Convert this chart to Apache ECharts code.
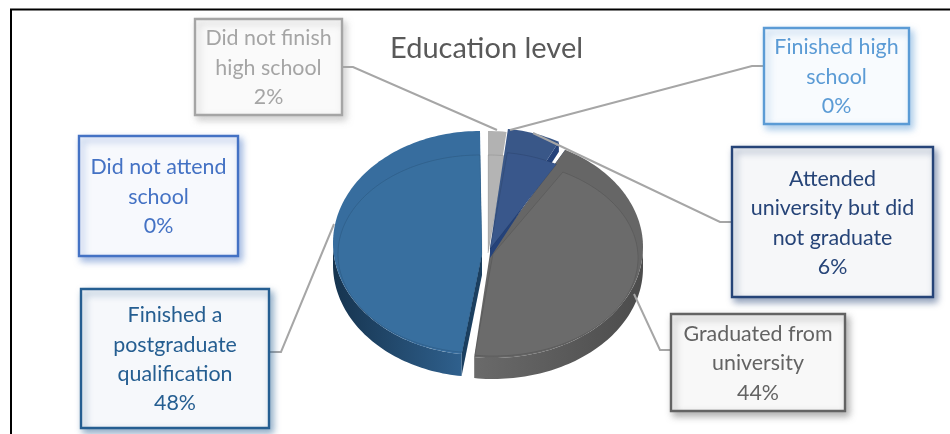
<!DOCTYPE html>
<html>
<head>
<meta charset="utf-8">
<style>html,body{margin:0;padding:0;background:#fff}#chart{width:950px;height:434px}</style>
<script src="https://cdn.jsdelivr.net/npm/echarts@6/dist/echarts.min.js"></script>
</head>
<body>
<div id="chart"></div>
<script>
// Survey answers, in pie order (clockwise from twelve o'clock)
const categories = [
  'Did not attend\nschool',
  'Did not finish\nhigh school',
  'Finished high\nschool',
  'Attended\nuniversity but did\nnot graduate',
  'Graduated from\nuniversity',
  'Finished a\npostgraduate\nqualification'
];
const values = [0, 2, 0, 6, 44, 48];
const chartTitle = 'Education level';

// Per-slice look: colours for the face, bevel, side wall and callout
const faceColors  = [null, '#b2b2b2', null, '#395788', '#666666', '#376d9e'];
const innerColors = [null, '#b4b4b4', null, '#39578b', '#6b6b6b', '#386f9f'];
const wallColors  = [
  null, ['#8a8a8a', '#8a8a8a'], null, ['#27457c', '#1f3a6b'],
  ['#6a6a6a', '#4c4c4c'], ['#16344f', '#2f608d']
];
const labelColors = ['#4472c4', '#a5a5a5', '#5b9bd5', '#264478', '#636363', '#255e91'];
const boxFills    = ['#f7f9fd', '#fafafa', '#f8fbfe', '#f6f7f9', '#f8f8f8', '#f6f8fb'];

// Ellipse centre, wedge tip and extrusion of each exploded slice
const sliceLayout = [
  null,
  { cx: 488, cy: 243, tipX: 488, tipY: 252, rx: 148, ry: 112, depth: 0, z: 1 },
  null,
  { cx: 490, cy: 240, tipX: 490, tipY: 248, rx: 143, ry: 112, depth: 10, z: 4 },
  { cx: 493, cy: 247, tipX: 490, tipY: 253, rx: 150, ry: 111, depth: 21, z: 2 },
  { cx: 480, cy: 243, tipX: 482, tipY: 253, rx: 147, ry: 112, depth: 22, z: 3 }
];
// Callout boxes [left, top, right, bottom] and their leader lines
const boxes = [
  [79, 136, 238, 256],
  [195, 19, 342, 115],
  [764, 28, 909, 124],
  [732, 147, 933, 297],
  [671, 314, 845, 411],
  [81, 289, 269, 428]
];
const leaders = [
  null,
  [[342, 67], [353, 67], [497, 130]],
  [[764, 66], [752, 66], [510, 130]],
  [[732, 222], [720, 222], [533, 133]],
  [[671, 350], [660, 350], [634, 294]],
  [[269, 352], [281, 352], [334, 224]]
];

const total = values.reduce((a, b) => a + b, 0);
const startAngles = [];
values.reduce((sum, v, i) => { startAngles[i] = sum / total * 360; return sum + v; }, 0);

// Point on an ellipse, angle in degrees clockwise from twelve o'clock
function rim(cx, cy, rx, ry, deg) {
  const a = deg * Math.PI / 180;
  return [cx + rx * Math.sin(a), cy - ry * Math.cos(a)];
}
function arc(cx, cy, rx, ry, from, to) {
  const pts = [];
  const n = Math.max(2, Math.ceil((to - from) / 1.5));
  for (let i = 0; i <= n; i++) pts.push(rim(cx, cy, rx, ry, from + (to - from) * i / n));
  return pts;
}

function renderSlice(params) {
  const i = params.dataIndex;
  const children = [];
  const from = startAngles[i];
  const to = from + values[i] / total * 360;
  const g = sliceLayout[i];

  if (values[i] > 0 && g) {
    const outer = arc(g.cx, g.cy, g.rx, g.ry, from, to);
    const tip = [g.tipX, g.tipY];
    const wallGrad = {
      type: 'linear', x: 0, y: 0, x2: 1, y2: 0,
      colorStops: [
        { offset: 0, color: wallColors[i][0] },
        { offset: 1, color: wallColors[i][1] }
      ]
    };
    if (g.depth > 0) {
      // Cut face along the radius that turns toward the viewer
      const edgeDeg = i === 3 ? to : from;
      const e = rim(g.cx, g.cy, g.rx, g.ry, edgeDeg);
      children.push({
        type: 'polygon', z2: g.z,
        shape: { points: [tip, e, [e[0], e[1] + g.depth], [tip[0], tip[1] + g.depth]] },
        style: { fill: i === 5 ? '#1b3f60' : '#24427a' }
      });
      // Curved outer wall on the near half of the rim
      const a = Math.max(from, 90), b = Math.min(to, 270);
      if (b > a) {
        const top = arc(g.cx, g.cy, g.rx, g.ry, a, b);
        const low = top.map(p => [p[0], p[1] + g.depth]).reverse();
        children.push({
          type: 'polygon', z2: g.z,
          shape: { points: top.concat(low) },
          style: { fill: wallGrad }
        });
      }
    }
    // Top face, then the bevelled inner panel
    children.push({
      type: 'polygon', z2: g.z + 0.1,
      shape: { points: [tip].concat(outer) },
      style: { fill: faceColors[i] }
    });
    const inner = arc(g.cx, g.cy + 11, g.rx - 5, g.ry - 13, from, to);
    children.push({
      type: 'polygon', z2: g.z + 0.2,
      shape: { points: [[g.tipX + (i === 4 ? 3 : 0), g.tipY + 1]].concat(inner) },
      style: { fill: innerColors[i], stroke: 'rgba(0,0,0,0.1)', lineWidth: 1 }
    });
  }

  // Leader line from the callout to its slice
  if (leaders[i]) {
    children.push({
      type: 'polyline', z2: 20,
      shape: { points: leaders[i] },
      style: { fill: 'none', stroke: '#a6a6a6', lineWidth: 2 }
    });
  }

  // Callout box with the category and its share
  const b = boxes[i];
  children.push({
    type: 'rect', z2: 21,
    shape: { x: b[0], y: b[1], width: b[2] - b[0], height: b[3] - b[1] },
    style: {
      fill: boxFills[i], stroke: labelColors[i], lineWidth: 2.4,
      shadowBlur: 7, shadowOffsetX: 3, shadowOffsetY: 4,
      shadowColor: echarts.color.modifyAlpha(labelColors[i], 0.5)
    }
  });
  children.push({
    type: 'text', z2: 22,
    style: {
      x: (b[0] + b[2]) / 2,
      y: (b[1] + b[3]) / 2 + 1,
      text: categories[i] + '\n' + values[i] + '%',
      align: 'center', verticalAlign: 'middle',
      fontFamily: 'Lato', fontSize: 21.4, lineHeight: 29.4,
      fill: labelColors[i]
    }
  });
  return { type: 'group', children };
}

const chart = echarts.init(document.getElementById('chart'));
chart.setOption({
  animation: false,
  backgroundColor: '#fff',
  title: {
    text: chartTitle, left: 390, top: 34, padding: 0,
    textStyle: { fontFamily: 'Lato', fontSize: 29, fontWeight: 'normal', color: '#595959' }
  },
  // Frame line along the top and left of the sheet
  graphic: [{
    type: 'polyline', silent: true,
    shape: { points: [[11, 434], [11, 9.5], [950, 9.5]] },
    style: { fill: 'none', stroke: '#000', lineWidth: 2 }
  }],
  series: [{
    type: 'custom',
    coordinateSystem: 'none',
    renderItem: renderSlice,
    data: categories.map((name, i) => ({ name, value: values[i] }))
  }]
});
</script>
</body>
</html>
